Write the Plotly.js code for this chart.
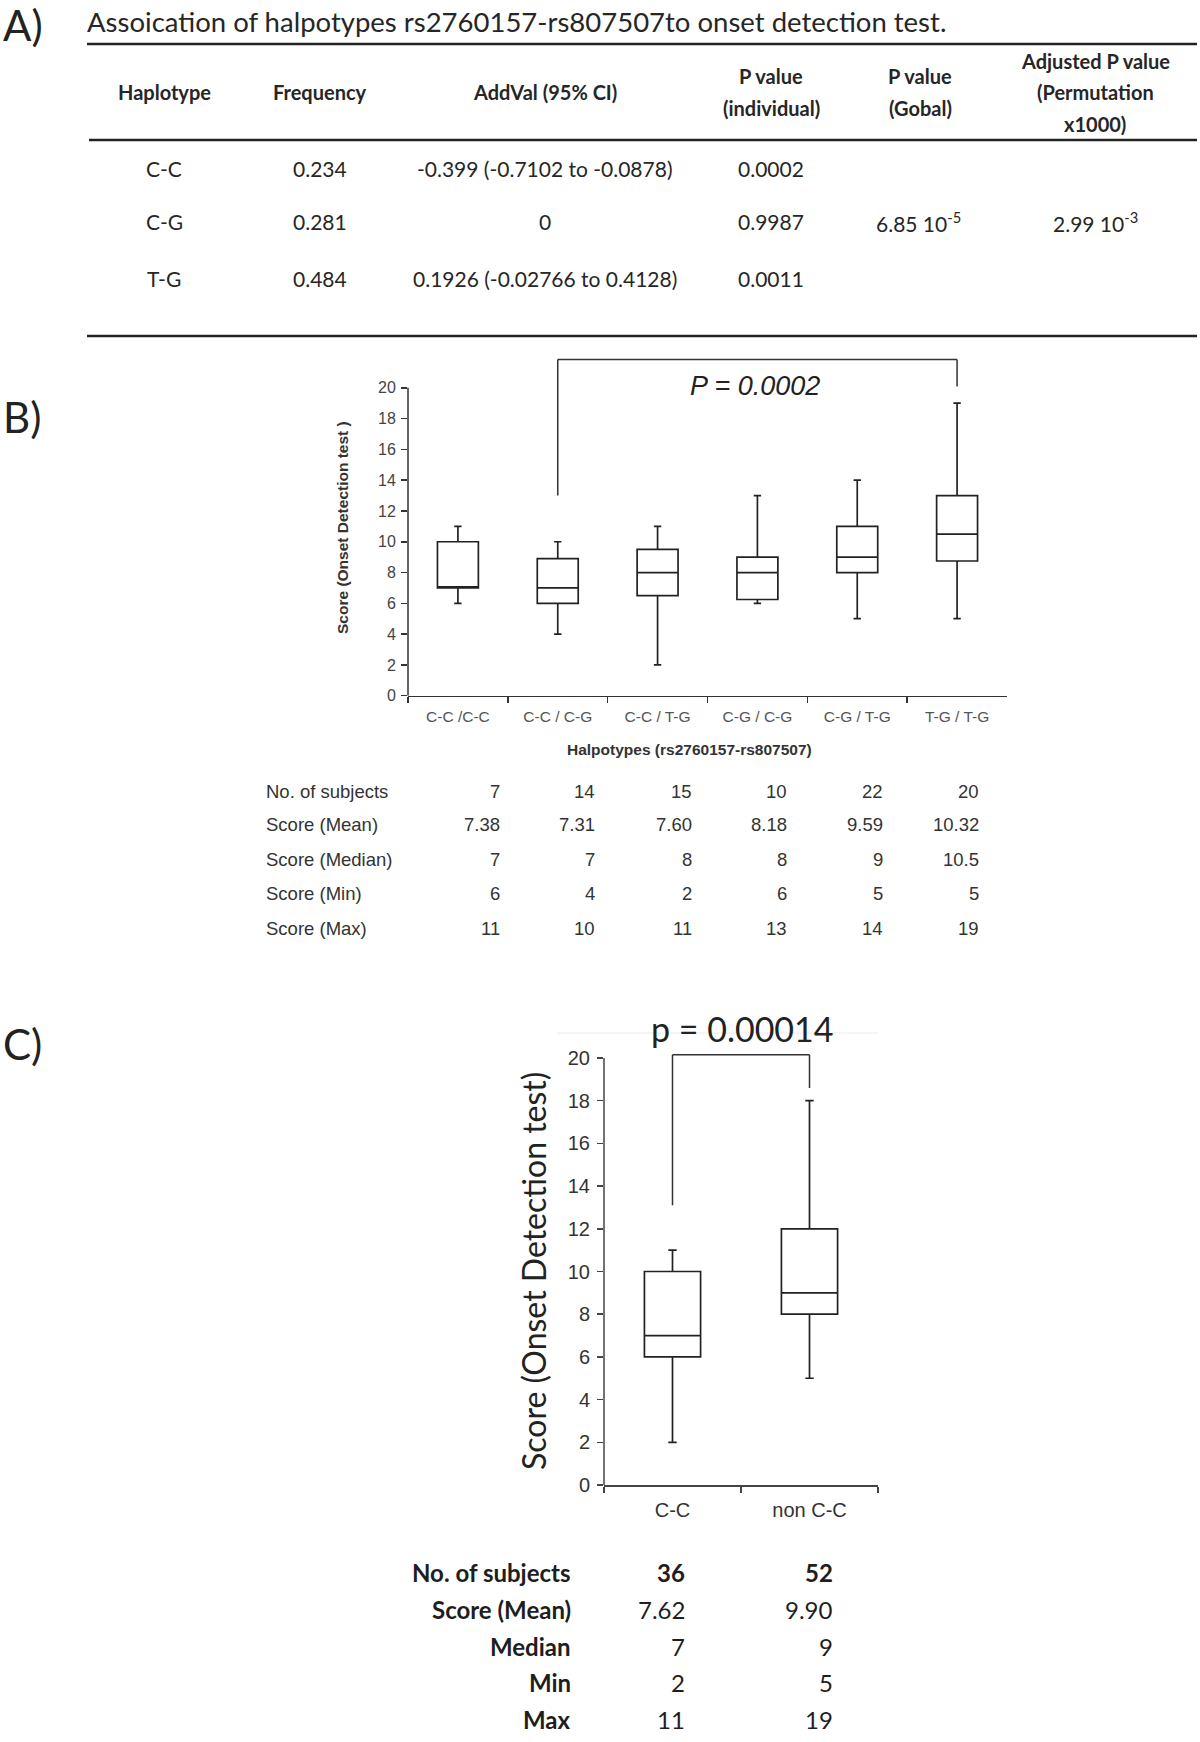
<!DOCTYPE html>
<html><head><meta charset="utf-8">
<script src="https://cdn.plot.ly/plotly-3.0.1.min.js"></script>
<style>html,body{margin:0;padding:0;background:#fff}#chart{width:1200px;height:1742px}</style>
</head><body><div id="chart"></div>
<script>
// ---------- Panel A data ----------
const titleA = 'Assoication of halpotypes rs2760157-rs807507to onset detection test.';
const headersA = [['Haplotype'], ['Frequency'], ['AddVal (95% CI)'], ['P value', '(individual)'], ['P value', '(Gobal)'], ['Adjusted P value', '(Permutation', 'x1000)']];
const hapA = ['C-C', 'C-G', 'T-G'];
const freqA = ['0.234', '0.281', '0.484'];
const addValA = ['-0.399 (-0.7102 to -0.0878)', '0', '0.1926 (-0.02766 to 0.4128)'];
const pIndA = ['0.0002', '0.9987', '0.0011'];
const pGlobalA = '6.85 10<sup>-5</sup>';
const pAdjA = '2.99 10<sup>-3</sup>';

// ---------- Panel B data ----------
const catsB = ['C-C /C-C', 'C-C / C-G', 'C-C / T-G', 'C-G / C-G', 'C-G / T-G', 'T-G / T-G'];
const lowB = [6, 4, 2, 6, 5, 5];
const q1B = [7, 6, 6.5, 6.25, 8, 8.75];
const medB = [7, 7, 8, 8, 9, 10.5];
const q3B = [10, 8.9, 9.5, 9, 11, 13];
const highB = [11, 10, 11, 13, 14, 19];
const yTicksB = [0, 2, 4, 6, 8, 10, 12, 14, 16, 18, 20];
const pTextB = 'P = 0.0002';
const tableLabelsB = ['No. of subjects', 'Score (Mean)', 'Score (Median)', 'Score (Min)', 'Score (Max)'];
const nB = ['7', '14', '15', '10', '22', '20'];
const meanB = ['7.38', '7.31', '7.60', '8.18', '9.59', '10.32'];
const medianTabB = ['7', '7', '8', '8', '9', '10.5'];
const minTabB = ['6', '4', '2', '6', '5', '5'];
const maxTabB = ['11', '10', '11', '13', '14', '19'];

// ---------- Panel C data ----------
const catsC = ['C-C', 'non C-C'];
const lowC = [2, 5];
const q1C = [6, 8];
const medC = [7, 9];
const q3C = [10, 12];
const highC = [11, 18];
const yTicksC = [0, 2, 4, 6, 8, 10, 12, 14, 16, 18, 20];
const pTextC = 'p = 0.00014';
const tableLabelsC = ['No. of subjects', 'Score (Mean)', 'Median', 'Min', 'Max'];
const nC = ['36', '52'];
const meanC = ['7.62', '9.90'];
const medianTabC = ['7', '9'];
const minTabC = ['2', '5'];
const maxTabC = ['11', '19'];

// ---------- helpers ----------
const W = 1200, H = 1742;
const px = x => x / W;
const py = y => 1 - y / H;
const HUM = 'Lato, "Open Sans", sans-serif';
const ARIAL = '"Liberation Sans", Arial, sans-serif';
const INK = '#262626';
const ann = [];
const shapes = [];
function txt(text, x, y, opts) {
  const o = Object.assign({xanchor: 'center', yanchor: 'middle', size: 21, family: HUM, color: INK}, opts || {});
  ann.push({text: text, x: px(x), y: py(y), xref: 'paper', yref: 'paper', showarrow: false,
    xanchor: o.xanchor, yanchor: o.yanchor, textangle: o.angle || 0,
    font: {family: o.family, size: o.size, color: o.color}});
}
function rule(x0, x1, y, w) {
  shapes.push({type: 'line', xref: 'paper', yref: 'paper', x0: px(x0), x1: px(x1), y0: py(y), y1: py(y), line: {color: '#222', width: w}});
}

// ---------- Panel A ----------
txt('A)', 1, 25, {xanchor: 'left', size: 42, color: '#222'});
txt(titleA, 85, 22, {xanchor: 'left', size: 27.5});
rule(87, 1197, 44, 2.5);
rule(89, 1197, 140, 2.5);
rule(87, 1197, 336, 2.5);
const colXA = [164, 320, 545, 771, 920, 1095];
headersA.forEach((lines, i) => {
  const n = lines.length;
  lines.forEach((l, j) => txt('<b>' + l + '</b>', colXA[i], 92 + (j - (n - 1) / 2) * 31.5, {size: 20}));
});
const rowYA = [168, 222, 278];
hapA.forEach((h, r) => {
  txt(h, colXA[0], rowYA[r]);
  txt(freqA[r], colXA[1], rowYA[r]);
  txt(addValA[r], colXA[2], rowYA[r]);
  txt(pIndA[r], colXA[3], rowYA[r]);
});
txt(pGlobalA, 918, rowYA[1]);
txt(pAdjA, colXA[5], rowYA[1]);

// ---------- Panel B ----------
txt('B)', 1, 417, {xanchor: 'left', size: 42, color: '#222'});
const domXB = [px(408), px(1007)];
const domYB = [py(695.7), py(357)];
const rangeYB = [0, 22];
shapes.push({type: 'line', xref: 'paper', yref: 'y', x0: domXB[0], x1: domXB[0], y0: yTicksB[0], y1: yTicksB[yTicksB.length - 1], line: {color: '#333', width: 1.5}});
// bracket
shapes.push({type: 'line', xref: 'x', yref: 'y', x0: 1, x1: 1, y0: 13, y1: 21.84, line: {color: '#333', width: 1.5}});
shapes.push({type: 'line', xref: 'x', yref: 'y', x0: 1, x1: 5, y0: 21.84, y1: 21.84, line: {color: '#333', width: 1.5}});
shapes.push({type: 'line', xref: 'x', yref: 'y', x0: 5, x1: 5, y0: 20.08, y1: 21.84, line: {color: '#333', width: 1.5}});
txt('<i>' + pTextB + '</i>', 755, 386, {family: ARIAL, size: 27, color: '#222'});
txt('<b>Halpotypes (rs2760157-rs807507)</b>', 689, 750, {family: ARIAL, size: 15.5, color: '#333'});
txt('<b>Score (Onset Detection test )</b>', 342, 527, {family: ARIAL, size: 15.5, color: '#333', angle: -90});
const rowYB = [791, 824, 859, 893, 928];
const valXB = [502, 597, 694, 789, 885, 981];
const tableB = [nB, meanB, medianTabB, minTabB, maxTabB];
tableLabelsB.forEach((lab, r) => {
  txt(lab, 264, rowYB[r], {xanchor: 'left', family: ARIAL, size: 18.5, color: '#333'});
  tableB[r].forEach((v, c) => txt(v, valXB[c], rowYB[r], {xanchor: 'right', family: ARIAL, size: 18.5, color: '#333'}));
});

// ---------- Panel C ----------
txt('C)', 1, 1044, {xanchor: 'left', size: 42, color: '#222'});
const domXC = [px(604), px(878)];
const domYC = [py(1485), py(1045.2)];
const rangeYC = [0, 20.6];
shapes.push({type: 'line', xref: 'paper', yref: 'paper', x0: px(557), x1: px(878), y0: py(1033), y1: py(1033), line: {color: '#ececec', width: 1}});
shapes.push({type: 'line', xref: 'paper', yref: 'y2', x0: domXC[0], x1: domXC[0], y0: yTicksC[0], y1: yTicksC[yTicksC.length - 1], line: {color: '#444', width: 1.5}});
shapes.push({type: 'line', xref: 'x2', yref: 'y2', x0: 0, x1: 0, y0: 13.1, y1: 20.15, line: {color: '#333', width: 1.5}});
shapes.push({type: 'line', xref: 'x2', yref: 'y2', x0: 0, x1: 1, y0: 20.15, y1: 20.15, line: {color: '#333', width: 1.5}});
shapes.push({type: 'line', xref: 'x2', yref: 'y2', x0: 1, x1: 1, y0: 18.6, y1: 20.15, line: {color: '#333', width: 1.5}});
txt(pTextC, 742, 1028, {size: 34, color: '#222'});
txt('Score (Onset Detection test)', 533, 1271, {size: 32, color: '#222', angle: -90});
const rowYC = [1572, 1609, 1646, 1682, 1719];
const valXC = [687, 835];
const tableC = [nC, meanC, medianTabC, minTabC, maxTabC];
tableLabelsC.forEach((lab, r) => {
  txt('<b>' + lab + '</b>', 573, rowYC[r], {xanchor: 'right', size: 24, color: '#1e1e1e'});
  tableC[r].forEach((v, c) => txt(r === 0 ? '<b>' + v + '</b>' : v, valXC[c], rowYC[r], {xanchor: 'right', size: 24, color: '#1e1e1e'}));
});

// ---------- traces ----------
const boxStyle = {type: 'box', boxpoints: false, hoverinfo: 'skip', showlegend: false,
  line: {color: '#222', width: 1.7}, fillcolor: '#ffffff'};
const traces = [
  Object.assign({}, boxStyle, {x: catsB, q1: q1B, median: medB, q3: q3B, lowerfence: lowB, upperfence: highB,
    xaxis: 'x', yaxis: 'y', width: 0.41, whiskerwidth: 0.18}),
  Object.assign({}, boxStyle, {x: catsC, q1: q1C, median: medC, q3: q3C, lowerfence: lowC, upperfence: highC,
    xaxis: 'x2', yaxis: 'y2', width: 0.41, whiskerwidth: 0.15})
];

const baseX = {type: 'category', showline: true, linewidth: 1.5, ticks: 'outside', tickson: 'boundaries',
  ticklen: 6, tickwidth: 1.5, showgrid: false, zeroline: false, fixedrange: true};
const baseY = {showline: false, ticks: 'outside', ticklen: 6, tickwidth: 1.5, showgrid: false, zeroline: false, fixedrange: true, tickmode: 'array'};

const layout = {
  width: W, height: H, margin: {l: 0, r: 0, t: 0, b: 0},
  paper_bgcolor: '#fff', plot_bgcolor: 'rgba(0,0,0,0)', showlegend: false, hovermode: false,
  xaxis: Object.assign({}, baseX, {domain: domXB, anchor: 'y', range: [-0.5, catsB.length - 0.5],
    linecolor: '#333', tickcolor: '#333', ticklabelstandoff: 6,
    tickfont: {family: ARIAL, size: 15.5, color: '#555'}}),
  yaxis: Object.assign({}, baseY, {domain: domYB, anchor: 'x', range: rangeYB, tickvals: yTicksB,
    tickcolor: '#333', ticklabelstandoff: 2, tickfont: {family: ARIAL, size: 16, color: '#444'}}),
  xaxis2: Object.assign({}, baseX, {domain: domXC, anchor: 'y2', range: [-0.5, catsC.length - 0.5],
    linecolor: '#444', tickcolor: '#444', ticklabelstandoff: 6,
    tickfont: {family: ARIAL, size: 20, color: '#333'}}),
  yaxis2: Object.assign({}, baseY, {domain: domYC, anchor: 'x2', range: rangeYC, tickvals: yTicksC,
    tickcolor: '#444', ticklabelstandoff: 3, tickfont: {family: ARIAL, size: 20, color: '#333'}}),
  shapes: shapes,
  annotations: ann
};

Plotly.newPlot('chart', traces, layout, {displayModeBar: false, staticPlot: true});
</script>
</body></html>
